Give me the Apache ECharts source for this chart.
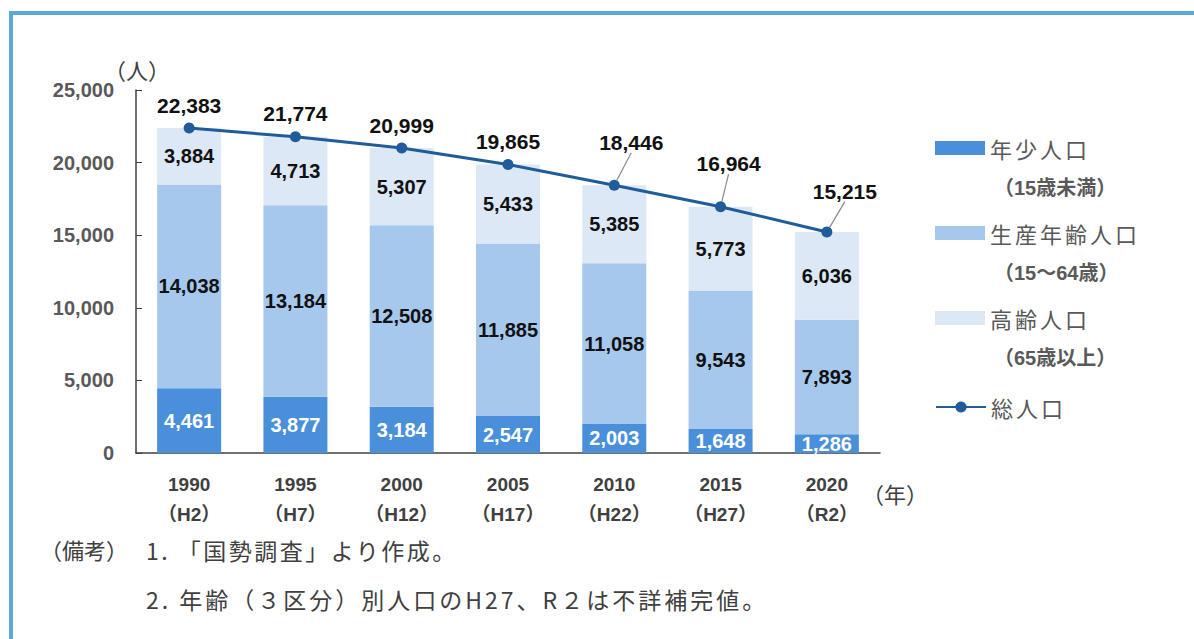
<!DOCTYPE html>
<html>
<head>
<meta charset="utf-8">
<script src="https://cdn.jsdelivr.net/npm/echarts@6/dist/echarts.min.js"></script>
<style>
  html, body { margin: 0; padding: 0; background: #fff; }
  #main { width: 1194px; height: 639px; }
</style>
</head>
<body>
<div id="main"></div>
<script>
var years = ['1990', '1995', '2000', '2005', '2010', '2015', '2020']
var eras = ['H2', 'H7', 'H12', 'H17', 'H22', 'H27', 'R2']
var young = [4461, 3877, 3184, 2547, 2003, 1648, 1286]
var working = [14038, 13184, 12508, 11885, 11058, 9543, 7893]
var elderly = [3884, 4713, 5307, 5433, 5385, 5773, 6036]
var total = [22383, 21774, 20999, 19865, 18446, 16964, 15215]

var fontNum = 'Liberation Sans, Arial, Noto Sans CJK JP, sans-serif'
var fontJp = 'Noto Sans CJK JP, sans-serif'
var fmt = function (v) { return v.toLocaleString('en-US') }

// svg renderer so the japanese texts can get letter spacing afterwards
var myChart = echarts.init(document.getElementById('main'), null, { renderer: 'svg' })

function barLabel (color) {
    return {
        show: true,
        position: 'inside',
        color: color,
        fontFamily: fontNum,
        fontWeight: 'bold',
        fontSize: 20,
        formatter: function (p) { return fmt(p.value) }
    }
}

function legendItem (name, top) {
    return {
        data: [{ name: name, icon: name === '総人口' ? undefined : 'rect' }],
        left: 930,
        top: top,
        itemWidth: 50,
        itemHeight: 14,
        itemGap: 0,
        textStyle: { fontFamily: fontJp, fontSize: 22, color: '#595959' },
        selectedMode: false
    }
}

// leader lines only for the last points, whose labels are pushed up and right
var labelShift = { 4: [17, -20], 5: [8, -20], 6: [18, -18] }
var totalData = total.map(function (v, i) {
    return { value: v, labelLine: { show: !!labelShift[i] } }
})

var option = {
    backgroundColor: '#fff',
    animation: false,
    grid: { left: 136, right: 314, top: 90, bottom: 186 },
    legend: [
        legendItem('年少人口', 132),
        legendItem('生産年齢人口', 217),
        legendItem('高齢人口', 302),
        legendItem('総人口', 391)
    ],
    xAxis: {
        type: 'category',
        data: years,
        axisLine: { lineStyle: { color: '#404040', width: 1.5 } },
        axisTick: { inside: true, length: 6, lineStyle: { color: '#404040' } },
        axisLabel: {
            margin: 16,
            lineHeight: 30,
            color: '#404040',
            fontFamily: fontNum,
            fontWeight: 'bold',
            fontSize: 19,
            formatter: function (v, i) { return v + '\n（' + eras[i] + '）' }
        }
    },
    yAxis: {
        type: 'value',
        min: 0,
        max: 25000,
        interval: 5000,
        splitLine: { show: false },
        axisLine: { show: true, lineStyle: { color: '#404040', width: 1.5 } },
        axisTick: { show: true, inside: true, length: 6, lineStyle: { color: '#404040' } },
        axisLabel: {
            margin: 22,
            color: '#595959',
            fontFamily: fontNum,
            fontWeight: 'bold',
            fontSize: 20,
            formatter: function (v) { return fmt(v) }
        }
    },
    series: [
        {
            name: '年少人口',
            type: 'bar',
            stack: 'pop',
            barWidth: 64,
            itemStyle: { color: '#4a8fd9' },
            label: barLabel('#ffffff'),
            data: young
        },
        {
            name: '生産年齢人口',
            type: 'bar',
            stack: 'pop',
            itemStyle: { color: '#a6c8ec' },
            label: barLabel('#111111'),
            data: working
        },
        {
            name: '高齢人口',
            type: 'bar',
            stack: 'pop',
            itemStyle: { color: '#dce8f6' },
            label: barLabel('#111111'),
            data: elderly
        },
        {
            name: '総人口',
            type: 'line',
            symbol: 'circle',
            symbolSize: 11,
            z: 5,
            lineStyle: { color: '#1f5c99', width: 3 },
            itemStyle: { color: '#1f5c99' },
            label: {
                show: true,
                position: 'top',
                distance: 7,
                color: '#111111',
                fontFamily: fontNum,
                fontWeight: 'bold',
                fontSize: 21,
                formatter: function (p) { return fmt(p.value) }
            },
            labelLine: { lineStyle: { color: '#888888', width: 1.2 } },
            labelLayout: function (p) {
                var s = labelShift[p.dataIndex]
                return s ? { dx: s[0], dy: s[1] } : {}
            },
            data: totalData
        }
    ],
    graphic: [
        // frame border
        { type: 'rect', shape: { x: 11, y: 13, width: 1300, height: 800 }, style: { fill: 'none', stroke: '#5aa9d6', lineWidth: 4 }, silent: true },
        { type: 'text', left: 104, top: 58, style: { text: '（人）', fontFamily: fontJp, fontSize: 22, fill: '#404040' } },
        { type: 'text', left: 862, top: 482, style: { text: '（年）', fontFamily: fontJp, fontSize: 22, fill: '#404040' } },
        { type: 'text', left: 994, top: 178, style: { text: '（15歳未満）', fontFamily: fontNum, fontWeight: 'bold', fontSize: 20, fill: '#595959' } },
        { type: 'text', left: 994, top: 263, style: { text: '（15～64歳）', fontFamily: fontNum, fontWeight: 'bold', fontSize: 20, fill: '#595959' } },
        { type: 'text', left: 994, top: 348, style: { text: '（65歳以上）', fontFamily: fontNum, fontWeight: 'bold', fontSize: 20, fill: '#595959' } },
        { type: 'text', left: 40, top: 538, style: { text: '（備考）', fontFamily: fontJp, fontSize: 22, fill: '#404040' } },
        { type: 'text', left: 146, top: 538, style: { text: '1. 「国勢調査」より作成。', fontFamily: fontJp, fontSize: 23, fill: '#404040' } },
        { type: 'text', left: 146, top: 587, style: { text: '2. 年齢（３区分）別人口のH27、R２は不詳補完値。', fontFamily: fontJp, fontSize: 23, fill: '#404040' } }
    ]
}
myChart.setOption(option)

// spread the japanese legend and note texts like the original
var spacing = {
    '年少人口': 3, '生産年齢人口': 3, '高齢人口': 3, '総人口': 3,
    '1. 「国勢調査」より作成。': 2.5,
    '2. 年齢（３区分）別人口のH27、R２は不詳補完値。': 3
}
function spreadText () {
    document.querySelectorAll('#main svg text').forEach(function (t) {
        var s = spacing[t.textContent]
        if (s) t.style.letterSpacing = s + 'px'
    })
}
spreadText()
myChart.on('finished', spreadText)
</script>
</body>
</html>
